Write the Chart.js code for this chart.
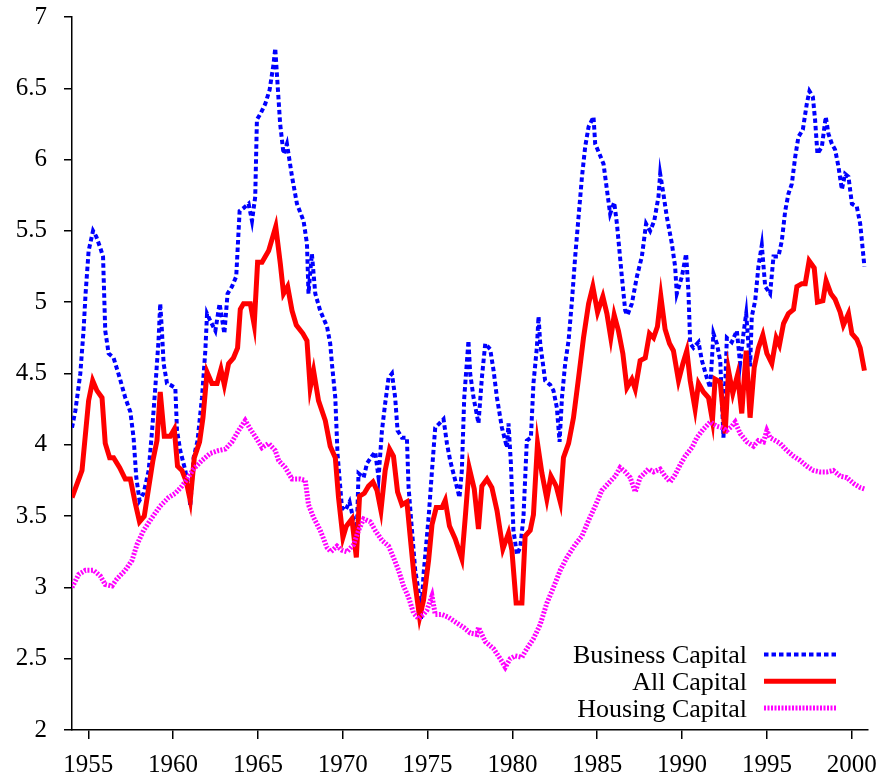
<!DOCTYPE html>
<html>
<head>
<meta charset="utf-8">
<script src="https://cdn.jsdelivr.net/npm/chart.js@4.4.0/dist/chart.umd.min.js"></script>
<style>
  html, body { margin: 0; padding: 0; background: #fff; }
  #caja { width: 886px; height: 782px; }
</style>
</head>
<body>
<div id="caja"><canvas id="grafico" width="886" height="782"></canvas></div>
<script>
// ticks
const aniosTicks = [1955, 1960, 1965, 1970, 1975, 1980, 1985, 1990, 1995, 2000];
const valoresTicks = [2, 2.5, 3, 3.5, 4, 4.5, 5, 5.5, 6, 6.5, 7];

// Business Capital
const negociosAnios = [1954.04, 1954.24, 1954.53, 1954.72, 1954.84, 1955.02, 1955.28, 1955.47, 1955.71, 1955.87,
  1956.00, 1956.20, 1956.49, 1956.85, 1957.18, 1957.48, 1957.67, 1957.83, 1958.02, 1958.26,
  1958.56, 1958.76, 1958.95, 1959.14, 1959.24, 1959.34, 1959.44, 1959.64, 1959.83, 1960.13,
  1960.23, 1960.42, 1960.72, 1960.91, 1961.01, 1961.21, 1961.44, 1961.70, 1961.90, 1962.00,
  1962.19, 1962.49, 1962.74, 1963.02, 1963.21, 1963.47, 1963.72, 1963.92, 1964.15, 1964.45,
  1964.65, 1964.84, 1964.94, 1965.14, 1965.43, 1965.69, 1965.92, 1966.02, 1966.31, 1966.51,
  1966.71, 1967.01, 1967.30, 1967.69, 1967.89, 1967.98, 1968.18, 1968.38, 1968.67, 1969.07,
  1969.26, 1969.36, 1969.56, 1969.69, 1969.95, 1970.15, 1970.40, 1970.60, 1970.80, 1970.93,
  1971.23, 1971.43, 1971.72, 1971.91, 1972.11, 1972.31, 1972.50, 1972.70, 1972.90, 1973.09,
  1973.23, 1973.49, 1973.78, 1973.88, 1974.08, 1974.27, 1974.53, 1974.61, 1974.76, 1975.06,
  1975.26, 1975.45, 1975.70, 1975.94, 1976.14, 1976.33, 1976.63, 1976.88, 1977.02, 1977.16,
  1977.41, 1977.51, 1977.71, 1978.00, 1978.20, 1978.40, 1978.69, 1978.89, 1979.09, 1979.38,
  1979.68, 1979.77, 1979.91, 1980.06, 1980.27, 1980.46, 1980.65, 1980.85, 1981.09, 1981.24,
  1981.44, 1981.54, 1981.64, 1981.93, 1982.23, 1982.42, 1982.62, 1982.78, 1982.92, 1983.11,
  1983.31, 1983.51, 1983.70, 1983.90, 1984.10, 1984.29, 1984.49, 1984.78, 1984.88, 1985.13,
  1985.37, 1985.57, 1985.76, 1986.00, 1986.16, 1986.31, 1986.45, 1986.65, 1986.78, 1987.04,
  1987.34, 1987.63, 1987.88, 1988.12, 1988.36, 1988.61, 1988.71, 1988.90, 1989.10, 1989.40,
  1989.59, 1989.69, 1989.99, 1990.24, 1990.38, 1990.48, 1990.67, 1990.97, 1991.17, 1991.46,
  1991.66, 1991.85, 1992.05, 1992.25, 1992.44, 1992.64, 1992.93, 1993.23, 1993.42, 1993.62,
  1993.78, 1994.01, 1994.11, 1994.31, 1994.50, 1994.70, 1994.90, 1995.19, 1995.39, 1995.68,
  1995.88, 1996.08, 1996.27, 1996.47, 1996.67, 1996.86, 1997.12, 1997.35, 1997.51, 1997.71,
  1997.84, 1997.98, 1998.24, 1998.47, 1998.63, 1998.83, 1999.02, 1999.22, 1999.42, 1999.61,
  1999.81, 2000.01, 2000.30, 2000.50, 2000.75];
const negociosValores = [4.12, 4.24, 4.50, 4.80, 5.06, 5.36, 5.50, 5.46, 5.38, 5.32,
  4.80, 4.64, 4.61, 4.47, 4.33, 4.23, 4.05, 3.77, 3.61, 3.66,
  3.82, 4.10, 4.40, 4.73, 4.99, 4.80, 4.57, 4.43, 4.42, 4.40,
  4.10, 3.96, 3.82, 3.70, 3.57, 3.91, 4.03, 4.33, 4.66, 4.92,
  4.87, 4.80, 4.99, 4.78, 5.06, 5.11, 5.18, 5.64, 5.66, 5.69,
  5.57, 5.74, 6.28, 6.32, 6.39, 6.49, 6.67, 6.78, 6.25, 6.04,
  6.11, 5.88, 5.69, 5.57, 5.41, 5.06, 5.34, 5.06, 4.94, 4.83,
  4.71, 4.57, 4.33, 3.94, 3.56, 3.54, 3.60, 3.49, 3.28, 3.80,
  3.77, 3.87, 3.92, 3.95, 3.77, 4.10, 4.29, 4.47, 4.50, 4.33,
  4.10, 4.05, 4.05, 3.70, 3.40, 3.12, 2.93, 2.78, 3.09, 3.49,
  3.82, 4.12, 4.15, 4.18, 4.01, 3.89, 3.75, 3.63, 3.82, 4.33,
  4.73, 4.50, 4.33, 4.15, 4.47, 4.71, 4.67, 4.52, 4.33, 4.12,
  3.98, 4.15, 3.87, 3.40, 3.23, 3.28, 3.49, 4.03, 4.05, 4.43,
  4.68, 4.90, 4.71, 4.45, 4.42, 4.38, 4.26, 4.02, 4.33, 4.57,
  4.73, 5.01, 5.32, 5.60, 5.88, 6.09, 6.23, 6.30, 6.11, 6.04,
  5.97, 5.79, 5.62, 5.70, 5.55, 5.36, 5.18, 4.94, 4.91, 4.99,
  5.18, 5.32, 5.55, 5.50, 5.57, 5.74, 5.90, 5.76, 5.60, 5.41,
  5.25, 5.06, 5.18, 5.34, 5.06, 4.71, 4.68, 4.72, 4.59, 4.47,
  4.40, 4.78, 4.71, 4.59, 4.05, 4.75, 4.72, 4.80, 4.57, 4.78,
  4.92, 4.55, 4.90, 5.01, 5.25, 5.40, 5.11, 5.06, 5.32, 5.32,
  5.43, 5.64, 5.76, 5.83, 6.02, 6.16, 6.21, 6.39, 6.48, 6.44,
  6.28, 6.04, 6.09, 6.30, 6.18, 6.11, 6.07, 5.95, 5.79, 5.90,
  5.88, 5.69, 5.67, 5.55, 5.25];

// All Capital
const totalAnios = [1954.04, 1954.63, 1955.02, 1955.26, 1955.51, 1955.81, 1956.00, 1956.26, 1956.49, 1956.85,
  1957.18, 1957.48, 1957.77, 1958.02, 1958.30, 1958.56, 1958.81, 1959.05, 1959.24, 1959.48,
  1959.83, 1960.07, 1960.26, 1960.52, 1960.78, 1961.01, 1961.25, 1961.56, 1961.76, 1962.00,
  1962.29, 1962.59, 1962.82, 1963.02, 1963.27, 1963.56, 1963.80, 1963.96, 1964.15, 1964.55,
  1964.78, 1964.98, 1965.24, 1965.63, 1966.05, 1966.32, 1966.51, 1966.75, 1967.01, 1967.26,
  1967.65, 1967.89, 1968.08, 1968.28, 1968.57, 1968.97, 1969.26, 1969.56, 1969.75, 1970.01,
  1970.21, 1970.54, 1970.80, 1970.99, 1971.27, 1971.52, 1971.78, 1972.02, 1972.25, 1972.50,
  1972.76, 1972.99, 1973.23, 1973.49, 1973.78, 1973.98, 1974.21, 1974.53, 1974.76, 1975.06,
  1975.26, 1975.51, 1975.85, 1976.04, 1976.29, 1976.63, 1977.02, 1977.22, 1977.45, 1977.75,
  1978.00, 1978.20, 1978.50, 1978.79, 1979.09, 1979.44, 1979.77, 1979.97, 1980.22, 1980.56,
  1980.75, 1981.05, 1981.24, 1981.48, 1981.74, 1982.03, 1982.27, 1982.58, 1982.82, 1983.01,
  1983.31, 1983.60, 1983.90, 1984.19, 1984.49, 1984.74, 1985.02, 1985.33, 1985.57, 1985.80,
  1986.00, 1986.25, 1986.51, 1986.75, 1987.04, 1987.24, 1987.53, 1987.83, 1988.08, 1988.32,
  1988.55, 1988.75, 1989.00, 1989.26, 1989.49, 1989.79, 1990.05, 1990.28, 1990.48, 1990.77,
  1990.97, 1991.26, 1991.56, 1991.79, 1991.95, 1992.25, 1992.54, 1992.74, 1992.99, 1993.27,
  1993.52, 1993.78, 1994.01, 1994.25, 1994.50, 1994.76, 1995.00, 1995.29, 1995.55, 1995.74,
  1995.98, 1996.27, 1996.57, 1996.77, 1997.06, 1997.26, 1997.49, 1997.79, 1997.98, 1998.30,
  1998.49, 1998.77, 1999.02, 1999.32, 1999.51, 1999.81, 2000.01, 2000.30, 2000.50, 2000.75];
const totalValores = [3.63, 3.82, 4.31, 4.45, 4.38, 4.33, 4.01, 3.91, 3.91, 3.84,
  3.76, 3.76, 3.59, 3.46, 3.50, 3.70, 3.89, 4.03, 4.37, 4.06,
  4.06, 4.11, 3.85, 3.82, 3.74, 3.61, 3.91, 4.02, 4.19, 4.51,
  4.43, 4.43, 4.53, 4.42, 4.57, 4.61, 4.68, 4.95, 4.99, 4.99,
  4.84, 5.28, 5.28, 5.36, 5.53, 5.27, 5.06, 5.11, 4.94, 4.84,
  4.78, 4.73, 4.40, 4.52, 4.31, 4.17, 3.99, 3.91, 3.63, 3.35,
  3.43, 3.48, 3.21, 3.64, 3.66, 3.71, 3.74, 3.68, 3.54, 3.82,
  3.97, 3.92, 3.67, 3.58, 3.60, 3.35, 3.07, 2.79, 2.91, 3.19,
  3.44, 3.56, 3.56, 3.61, 3.43, 3.34, 3.20, 3.49, 3.84, 3.69,
  3.41, 3.71, 3.76, 3.70, 3.54, 3.27, 3.38, 3.26, 2.89, 2.89,
  3.36, 3.40, 3.51, 4.01, 3.80, 3.62, 3.78, 3.71, 3.60, 3.91,
  4.01, 4.19, 4.47, 4.75, 4.99, 5.11, 4.93, 5.04, 4.92, 4.75,
  4.91, 4.80, 4.64, 4.40, 4.46, 4.39, 4.59, 4.61, 4.78, 4.75,
  4.83, 5.04, 4.81, 4.71, 4.66, 4.45, 4.57, 4.66, 4.45, 4.25,
  4.43, 4.37, 4.33, 4.17, 4.46, 4.44, 4.08, 4.52, 4.36, 4.49,
  4.22, 4.66, 4.19, 4.54, 4.68, 4.77, 4.64, 4.57, 4.75, 4.70,
  4.85, 4.92, 4.95, 5.11, 5.13, 5.13, 5.29, 5.24, 5.00, 5.01,
  5.15, 5.06, 5.02, 4.93, 4.84, 4.92, 4.78, 4.74, 4.68, 4.52];

// Housing Capital
const viviendaAnios = [1954.04, 1954.43, 1954.83, 1955.31, 1955.71, 1956.00, 1956.40, 1956.69, 1957.18, 1957.58,
  1957.87, 1958.26, 1958.76, 1959.24, 1959.73, 1960.13, 1960.52, 1960.82, 1961.21, 1961.70,
  1962.19, 1962.68, 1963.08, 1963.47, 1963.86, 1964.25, 1964.55, 1964.94, 1965.24, 1965.63,
  1966.02, 1966.22, 1966.61, 1967.01, 1967.50, 1967.79, 1967.98, 1968.28, 1968.67, 1969.07,
  1969.30, 1969.66, 1969.95, 1970.25, 1970.64, 1970.93, 1971.23, 1971.62, 1971.91, 1972.31,
  1972.70, 1972.99, 1973.29, 1973.58, 1973.88, 1974.17, 1974.47, 1974.76, 1974.96, 1975.26,
  1975.45, 1975.85, 1976.23, 1976.73, 1977.12, 1977.51, 1977.91, 1978.00, 1978.40, 1978.89,
  1979.28, 1979.58, 1979.87, 1980.16, 1980.56, 1980.85, 1981.24, 1981.64, 1982.03, 1982.42,
  1982.82, 1983.21, 1983.70, 1984.10, 1984.49, 1984.88, 1985.27, 1985.66, 1986.06, 1986.35,
  1986.65, 1986.94, 1987.24, 1987.53, 1988.02, 1988.32, 1988.71, 1989.00, 1989.30, 1989.59,
  1989.89, 1990.18, 1990.58, 1990.87, 1991.26, 1991.66, 1992.05, 1992.35, 1992.64, 1992.93,
  1993.13, 1993.42, 1993.82, 1994.21, 1994.50, 1994.80, 1995.00, 1995.19, 1995.49, 1995.78,
  1996.18, 1996.57, 1996.96, 1997.35, 1997.74, 1998.14, 1998.53, 1998.92, 1999.32, 1999.71,
  2000.10, 2000.50, 2000.75];
const viviendaValores = [3.00, 3.09, 3.12, 3.12, 3.08, 3.02, 3.01, 3.06, 3.12, 3.19,
  3.30, 3.40, 3.49, 3.57, 3.63, 3.66, 3.71, 3.76, 3.83, 3.89,
  3.94, 3.96, 3.97, 4.02, 4.10, 4.17, 4.11, 4.04, 3.98, 4.01,
  3.96, 3.89, 3.84, 3.76, 3.76, 3.75, 3.58, 3.49, 3.40, 3.28,
  3.25, 3.29, 3.26, 3.25, 3.30, 3.40, 3.48, 3.46, 3.40, 3.33,
  3.29, 3.21, 3.12, 3.01, 2.93, 2.82, 2.78, 2.81, 2.84, 2.94,
  2.81, 2.81, 2.79, 2.75, 2.72, 2.68, 2.67, 2.72, 2.62, 2.57,
  2.50, 2.44, 2.50, 2.52, 2.51, 2.57, 2.64, 2.74, 2.89, 3.00,
  3.12, 3.21, 3.30, 3.36, 3.47, 3.57, 3.68, 3.73, 3.78, 3.84,
  3.81, 3.77, 3.67, 3.77, 3.83, 3.81, 3.83, 3.78, 3.74, 3.79,
  3.86, 3.92, 3.98, 4.05, 4.11, 4.16, 4.13, 4.12, 4.10, 4.13,
  4.16, 4.08, 4.02, 3.99, 4.03, 4.02, 4.10, 4.05, 4.03, 4.01,
  3.96, 3.92, 3.89, 3.85, 3.82, 3.81, 3.81, 3.82, 3.78, 3.77,
  3.73, 3.70, 3.69];

function armarPuntos(anios, valores) {
  return anios.map((a, i) => ({ x: a, y: valores[i] }));
}

const fuente = '"Liberation Serif", "Times New Roman", serif';

// leyenda a la derecha: texto alineado a la derecha y muestra de linea despues
const leyendaDerecha = {
  id: 'leyendaDerecha',
  afterDraw(chart) {
    const ctx = chart.ctx;
    ctx.save();
    ctx.font = '26px ' + fuente;
    ctx.textAlign = 'right';
    ctx.textBaseline = 'alphabetic';
    chart.data.datasets.forEach((ds, i) => {
      const base = 663.3 + i * 26.7;
      ctx.fillStyle = '#000';
      ctx.fillText(ds.label, 747, base);
      ctx.beginPath();
      ctx.strokeStyle = ds.borderColor;
      ctx.lineWidth = ds.borderWidth;
      ctx.lineCap = 'butt';
      ctx.setLineDash(ds.borderDash || []);
      ctx.moveTo(764, base - 8.8);
      ctx.lineTo(836, base - 8.8);
      ctx.stroke();
    });
    ctx.restore();
  }
};

const ctx = document.getElementById('grafico').getContext('2d');
new Chart(ctx, {
  type: 'line',
  data: {
    datasets: [
      {
        label: 'Business Capital',
        data: armarPuntos(negociosAnios, negociosValores),
        borderColor: '#0000ff',
        borderWidth: 4,
        borderDash: [4.5, 3],
        order: 2
      },
      {
        label: 'All Capital',
        data: armarPuntos(totalAnios, totalValores),
        borderColor: '#ff0000',
        borderWidth: 5,
        order: 1
      },
      {
        label: 'Housing Capital',
        data: armarPuntos(viviendaAnios, viviendaValores),
        borderColor: '#ff00ff',
        borderWidth: 5,
        borderDash: [2, 1.5],
        order: 0
      }
    ]
  },
  options: {
    responsive: false,
    devicePixelRatio: 1,
    animation: false,
    events: [],
    elements: {
      point: { radius: 0 },
      line: { tension: 0, fill: false, borderJoinStyle: 'miter', borderCapStyle: 'butt' }
    },
    layout: { padding: { top: 17, right: 18, left: 0, bottom: 0 } },
    plugins: { legend: { display: false }, tooltip: { enabled: false } },
    scales: {
      x: {
        type: 'linear',
        min: 1954.04,
        max: 2000.96,
        afterBuildTicks: s => { s.ticks = aniosTicks.map(v => ({ value: v })); },
        afterFit: s => { s.height = 52; s.paddingLeft = 0; s.paddingRight = 0; },
        grid: { drawOnChartArea: false, tickLength: 9, color: '#000', lineWidth: 1.5 },
        border: { color: '#000', width: 1.5 },
        ticks: {
          font: { family: fuente, size: 25 },
          color: '#000',
          padding: 11,
          maxRotation: 0,
          autoSkip: false,
          callback: v => String(v)
        }
      },
      y: {
        min: 2,
        max: 7,
        afterBuildTicks: s => { s.ticks = valoresTicks.map(v => ({ value: v })); },
        afterFit: s => { s.width = 72; s.paddingTop = 0; s.paddingBottom = 0; },
        grid: { drawOnChartArea: false, tickLength: 8, color: '#000', lineWidth: 1.5 },
        border: { color: '#000', width: 1.5 },
        ticks: {
          font: { family: fuente, size: 25 },
          color: '#000',
          padding: 17,
          autoSkip: false,
          callback: v => String(v)
        }
      }
    }
  },
  plugins: [leyendaDerecha]
});
</script>
</body>
</html>
